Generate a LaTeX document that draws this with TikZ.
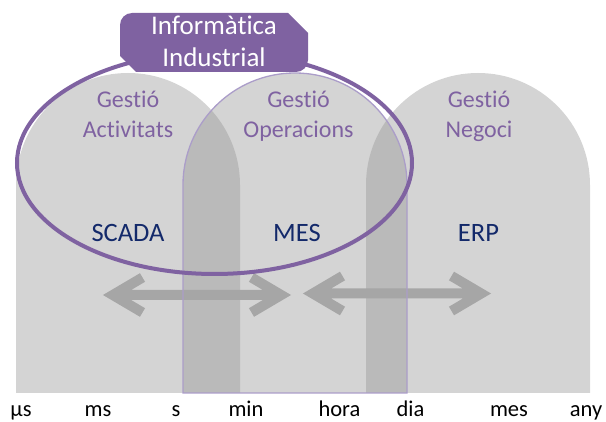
\documentclass[tikz,border=0pt]{standalone}
\usepackage{fontspec}
\setmainfont{Carlito}[Ligatures=NoCommon]
\usetikzlibrary{calc,shapes.geometric}

\definecolor{shapegray}{HTML}{D4D4D4}
\definecolor{overlapgray}{HTML}{BABABA}
\definecolor{arrowgray}{HTML}{A6A6A6}
\definecolor{iipurple}{HTML}{7F62A1}
\definecolor{lilac}{HTML}{AB9DC9}
\definecolor{navy}{HTML}{13296A}

% tombstone outline: left x, right x (radius = half width)
\newcommand\tombpath[2]{%
  (#1,28) -- (#1,236) arc[start angle=180,end angle=0,radius={(#2-#1)/2}] -- (#2,28) -- cycle}

% thick double arrow with open chevron heads between two named coordinates
\newcommand\chevarrow[2]{%
  \draw[arrowgray,line width=10pt,line join=miter,line cap=butt]
    ($(#1)+(39.5,17.5)$) -- ($(#1)+(9.8,0)$) -- ($(#1)+(39.5,-17.5)$)
    ($(#1)+(9.8,0)$) -- ($(#2)+(-9.8,0)$)
    ($(#2)+(-39.5,17.5)$) -- ($(#2)+(-9.8,0)$) -- ($(#2)+(-39.5,-17.5)$);}

\begin{document}
\begin{tikzpicture}[x=1pt,y=1pt,
  zonetitle/.style={text=iipurple,font=\fontsize{24}{30}\selectfont,align=center,inner sep=0pt},
  system/.style={text=navy,font=\fontsize{26.5}{30}\selectfont,inner sep=0pt,anchor=base},
  timescale/.style={text=black,font=\fontsize{22.5}{26}\selectfont,inner sep=0pt,anchor=base},
  banner/.style={text=white,font=\fontsize{27}{32}\selectfont,inner sep=0pt,anchor=base}]
\useasboundingbox (0,0) rectangle (606,421);

% the three time-horizon zones
\fill[shapegray] \tombpath{16}{240};
\fill[shapegray] \tombpath{183}{407};
\fill[shapegray] \tombpath{366}{590};

% overlapping parts of neighbouring zones
\begin{scope}
  \clip \tombpath{16}{240};
  \fill[overlapgray] \tombpath{183}{407};
\end{scope}
\begin{scope}
  \clip \tombpath{366}{590};
  \fill[overlapgray] \tombpath{183}{407};
\end{scope}

% time-range arrows
\coordinate (a1l) at (103,126);
\coordinate (a1r) at (291,126);
\coordinate (a2l) at (303,127.5);
\coordinate (a2r) at (491,127.5);
\chevarrow{a1l}{a1r}
\chevarrow{a2l}{a2r}

% outline of the operations zone
\draw[lilac,line width=1.3pt] \tombpath{183}{407};

% scope of industrial computing
\node[draw=iipurple,line width=4pt,ellipse,minimum width=395pt,minimum height=222pt,inner sep=0pt]
  (scope) at (214.5,258) {};

% banner
\fill[iipurple] (136,349) -- (296,349) arc[start angle=-90,end angle=0,radius=12]
  -- (308,388) -- (288,408) -- (132,408) arc[start angle=90,end angle=180,radius=12]
  -- (120,365) -- cycle;
\node[banner] (ii1) at (214,386) {Informàtica};
\node[banner] (ii2) at (214,354) {Industrial};

% zone titles
\node[zonetitle,anchor=base] (g1) at (128,313) {Gestió};
\node[zonetitle,anchor=base] (g1b) at (128,283) {Activitats};
\node[zonetitle,anchor=base] (g2) at (298.5,313) {Gestió};
\node[zonetitle,anchor=base] (g2b) at (298.5,283) {Operacions};
\node[zonetitle,anchor=base] (g3) at (479,313) {Gestió};
\node[zonetitle,anchor=base] (g3b) at (479,283) {Negoci};

% systems
\node[system] (scada) at (128,179) {SCADA};
\node[system] (mes) at (297,179) {MES};
\node[system] (erp) at (478.5,179) {ERP};

% time scale
\node[timescale] (t1) at (21,5) {µs};
\node[timescale] (t2) at (98,5) {ms};
\node[timescale] (t3) at (176,5) {s};
\node[timescale] (t4) at (246,5) {min};
\node[timescale] (t5) at (339.5,5) {hora};
\node[timescale] (t6) at (410.5,5) {dia};
\node[timescale] (t7) at (509,5) {mes};
\node[timescale] (t8) at (586,5) {any};
\end{tikzpicture}
\end{document}
